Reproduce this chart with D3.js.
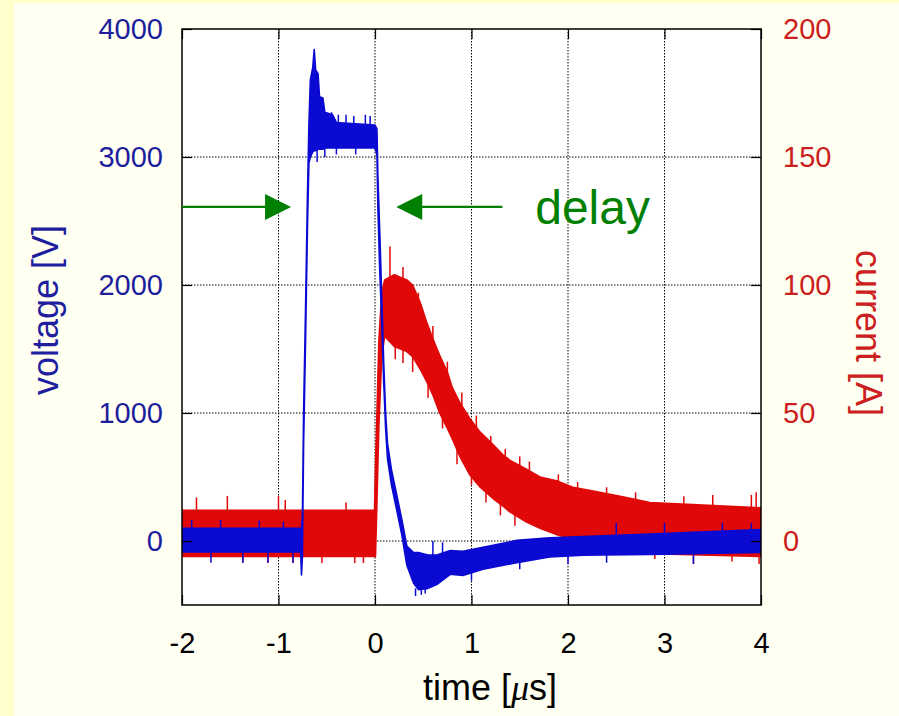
<!DOCTYPE html>
<html lang="en">
<head>
<meta charset="UTF-8">
<title>voltage / current</title>
<script src="https://cdn.jsdelivr.net/npm/d3@7"></script>
<style>
  html, body { margin: 0; padding: 0; background: #fffff0; }
  svg { display: block; font-family: "Liberation Sans", Arial, sans-serif; }
  .grid line { stroke: #000; stroke-width: 1; stroke-dasharray: 1.5,1.5; }
  .axis .tick line { stroke: #000; stroke-width: 1.2; }
  .axis path.domain { display: none; }
</style>
</head>
<body>
<svg id="chart" width="899" height="716"></svg>
<script>
// ticks
const timeTicks = [-2, -1, 0, 1, 2, 3, 4];      // us
const voltTicks = [0, 1000, 2000, 3000, 4000];  // V
const currTicks = [0, 50, 100, 150, 200];       // A

// voltage trace: time [us], low and high edge of the noise band [V]
const voltTime = [-2.0, -0.77, -0.762, -0.752, -0.74, -0.72, -0.70, -0.685, -0.67, -0.645, -0.63, -0.615, -0.59, -0.575, -0.54, -0.52,
  -0.44, -0.40, 0.0, 0.02, 0.03, 0.05, 0.07, 0.09, 0.11, 0.13, 0.17, 0.22, 0.28, 0.33, 0.40, 0.45, 0.55, 0.64, 0.78, 0.91,
  1.12, 1.47, 1.81, 2.16, 2.85, 4.0];
const voltLo = [-85, -85, -265, -120, 750, 1550, 2450, 2950, 3000, 3040, 3050, 3050, 3060, 3060, 3060, 3070,
  3070, 3070, 3070, 3020, 2600, 2100, 1700, 1250, 880, 640, 440, 260, 40, -190, -330, -380, -370, -340, -260, -270,
  -220, -170, -125, -110, -105, -90];
const voltHi = [100, 100, 100, 200, 1000, 1800, 2700, 3250, 3600, 3700, 3840, 3680, 3650, 3470, 3460, 3350,
  3330, 3270, 3250, 3220, 2850, 2400, 1900, 1400, 1000, 760, 560, 380, 160, -40, -90, -90, -110, -110, -75, -80,
  -50, 5, 25, 35, 55, 90];
// single spikes sticking out of the band: [time, from, to]
const voltSpikes = [[-1.9, 90, 165], [-1.6, 90, 165], [-1.2, 90, 160], [-0.95, 90, 150], [-1.7, -80, -170], [-1.37, -80, -170],
  [-1.11, -80, -170], [-0.85, -80, -170],
  [-0.45, 3250, 3350], [-0.38, 3250, 3330], [-0.3, 3250, 3330], [-0.22, 3250, 3320], [-0.1, 3250, 3330], [-0.05, 3250, 3320],
  [-0.6, 3080, 2960], [-0.52, 3080, 3000], [-0.4, 3080, 3020], [-0.2, 3080, 3020],
  [0.42, -370, -430], [0.48, -370, -420], [0.52, -360, -410], [0.60, -140, 0],
  [0.70, -130, -10], [1.0, -240, -310], [1.5, -160, -220], [2.0, -110, -180], [2.4, -100, -170], [3.3, -100, -180],
  [2.5, 30, 140], [3.0, 50, 140], [3.6, 60, 140], [3.9, 80, 140]];

// current trace: time [us], low and high edge of the noise band [A]
const currTime = [-2.0, -0.005, 0.005, 0.02, 0.04, 0.07, 0.10, 0.20, 0.33, 0.39, 0.47, 0.54, 0.60, 0.67, 0.75, 0.80, 0.88, 0.98,
  1.09, 1.22, 1.33, 1.40, 1.57, 1.71, 1.88, 2.05, 2.26, 2.54, 2.85, 4.0];
const currLo = [-6, -6, -6, 15, 45, 72, 80, 76, 74, 72, 67, 62, 57, 50, 44, 40, 33, 26,
  21, 16.7, 13.5, 11.3, 7.4, 5, 2.5, 0.5, -2, -4, -5, -6];
const currHi = [12, 12, 30, 50, 78, 97, 102, 104, 102, 100, 93, 85, 79, 72.5, 66, 60, 54, 48,
  42.5, 37.8, 33.5, 31.5, 28, 25, 23.5, 21, 19.5, 17.5, 15, 13];
const currSpikes = [[-1.85, 11, 17], [-1.53, 11, 17.6], [-1.0, 11, 17.6], [-0.93, 11, 16], [-0.3, 11, 15],
  [-1.37, -5, -8.6], [-1.11, -5, -8.6], [-0.85, -5, -8.6], [-0.55, -5, -8.6], [-0.21, -5, -8.6], [-0.12, -5, -8.6],
  [0.155, 100, 115], [0.29, 98, 107], [0.21, 78, 71], [0.29, 76, 69.5], [0.39, 73, 66],
  [0.45, 90, 97], [0.6, 77, 84], [0.75, 64, 70], [0.9, 52, 58], [1.05, 44, 49], [1.35, 32, 36], [1.5, 29, 33],
  [0.55, 63, 56], [0.7, 50, 44], [0.85, 36, 30], [1.0, 27, 22], [1.15, 20, 15], [1.3, 15, 10], [1.45, 11, 6],
  [1.2, 37, 41], [1.6, 27, 31], [1.9, 22, 26], [2.1, 20, 23], [2.4, 18, 21], [2.7, 16, 19], [3.2, 14, 17.5],
  [3.5, 14, 18], [3.9, 13, 18], [3.95, 13, 19], [3.3, -5, -9], [3.7, -5, -8], [3.98, -5, -9], [2.9, -4, -7]];

// "delay" arrows: level in V, arrow tips in us
const delayLevel = 2610;
const delayTips = [-0.87, 0.22];

const blue = "#0a0ad2", red = "#e00808", green = "#008000";
const blueText = "#1e1e9e", redText = "#cc2020";

const margin = { top: 29, right: 138, bottom: 111, left: 182 };
const width = 899 - margin.left - margin.right;
const height = 716 - margin.top - margin.bottom;

const svg = d3.select("#chart");
svg.append("rect").attr("width", 899).attr("height", 716).attr("fill", "#fffff2");
svg.append("rect").attr("width", 14).attr("height", 716).attr("fill", "#ffffcc");
svg.append("rect").attr("width", 899).attr("height", 3).attr("fill", "#ffffcc");

const g = svg.append("g").attr("transform", `translate(${margin.left},${margin.top})`);

const x = d3.scaleLinear().domain([-2, 4]).range([0, width]);
const yV = d3.scaleLinear().domain([-500, 4000]).range([height, 0]);
const yI = d3.scaleLinear().domain([-25, 200]).range([height, 0]);

g.append("rect").attr("width", width).attr("height", height).attr("fill", "#fff");
g.append("clipPath").attr("id", "clip").append("rect").attr("width", width).attr("height", height);

// grid
const grid = g.append("g").attr("class", "grid");
grid.selectAll(".gx").data(timeTicks.slice(1, -1)).join("line")
  .attr("x1", d => x(d)).attr("x2", d => x(d)).attr("y1", 0).attr("y2", height);
grid.selectAll(".gy").data(voltTicks.slice(0, -1)).join("line")
  .attr("x1", 0).attr("x2", width).attr("y1", d => yV(d)).attr("y2", d => yV(d));

const traces = g.append("g").attr("clip-path", "url(#clip)");

function drawTrace(times, lo, hi, spikes, y, color) {
  const band = d3.area()
    .x(i => x(times[i]))
    .y0(i => y(lo[i]))
    .y1(i => y(hi[i]));
  traces.append("path")
    .attr("d", band(d3.range(times.length)))
    .attr("fill", color)
    .attr("stroke", color)
    .attr("stroke-width", 1.6)
    .attr("stroke-linejoin", "round");
  traces.append("g").selectAll("line").data(spikes).join("line")
    .attr("x1", d => x(d[0])).attr("x2", d => x(d[0]))
    .attr("y1", d => y(d[1])).attr("y2", d => y(d[2]))
    .attr("stroke", color).attr("stroke-width", 1.5);
}

drawTrace(currTime, currLo, currHi, currSpikes, yI, red);
drawTrace(voltTime, voltLo, voltHi, voltSpikes, yV, blue);

// frame
g.append("rect").attr("width", width).attr("height", height)
  .attr("fill", "none").attr("stroke", "#000").attr("stroke-width", 1.5);

// axes, ticks pointing inward like gnuplot
const plain = d => String(d);
const font = "Liberation Sans, Arial, sans-serif";

const left = g.append("g").attr("class", "axis")
  .call(d3.axisLeft(yV).tickValues(voltTicks).tickFormat(plain).tickSizeInner(-10).tickSizeOuter(0).tickPadding(19));
left.selectAll("text").attr("fill", blueText).attr("font-size", 29).attr("font-family", font);

const right = g.append("g").attr("class", "axis").attr("transform", `translate(${width},0)`)
  .call(d3.axisRight(yI).tickValues(currTicks).tickFormat(plain).tickSizeInner(-10).tickSizeOuter(0).tickPadding(22));
right.selectAll("text").attr("fill", redText).attr("font-size", 29).attr("font-family", font);

const bottom = g.append("g").attr("class", "axis").attr("transform", `translate(0,${height})`)
  .call(d3.axisBottom(x).tickValues(timeTicks).tickFormat(plain).tickSizeInner(-10).tickSizeOuter(0).tickPadding(27));
bottom.selectAll("text").attr("fill", "#000").attr("font-size", 29).attr("font-family", font);

g.append("g").attr("class", "axis")
  .call(d3.axisTop(x).tickValues(timeTicks).tickSizeInner(-10).tickSizeOuter(0).tickFormat(""));

// delay annotation
const ay = yV(delayLevel);
const head = (tip, dir) => `M${tip},${ay}L${tip - dir * 26},${ay - 13}L${tip - dir * 26},${ay + 13}Z`;
const tipL = x(delayTips[0]), tipR = x(delayTips[1]);
g.append("line").attr("x1", 0).attr("x2", tipL - 20).attr("y1", ay).attr("y2", ay)
  .attr("stroke", green).attr("stroke-width", 2.2);
g.append("path").attr("d", head(tipL, 1)).attr("fill", green);
g.append("line").attr("x1", tipR + 20).attr("x2", x(1.32)).attr("y1", ay).attr("y2", ay)
  .attr("stroke", green).attr("stroke-width", 2.2);
g.append("path").attr("d", head(tipR, -1)).attr("fill", green);
g.append("text").attr("x", x(1.66)).attr("y", yV(2480))
  .attr("fill", green).attr("font-size", 48).text("delay");

// axis titles
svg.append("text").attr("transform", "translate(58,310) rotate(-90)")
  .attr("text-anchor", "middle").attr("fill", blueText).attr("font-size", 36).text("voltage [V]");
svg.append("text").attr("transform", "translate(856,333) rotate(90)")
  .attr("text-anchor", "middle").attr("fill", redText).attr("font-size", 36).text("current [A]");
const xt = svg.append("text").attr("x", 490).attr("y", 700)
  .attr("text-anchor", "middle").attr("fill", "#000").attr("font-size", 36);
xt.append("tspan").text("time [");
xt.append("tspan").attr("font-family", "Liberation Serif, serif").attr("font-style", "italic").text("\u03bc");
xt.append("tspan").text("s]");
</script>
</body>
</html>
